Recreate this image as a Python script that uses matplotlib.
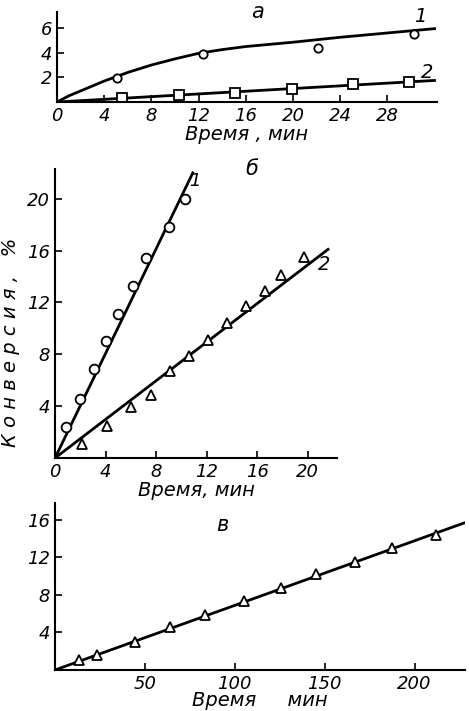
import matplotlib.pyplot as plt

plt.rcParams['font.family'] = 'DejaVu Sans'
plt.rcParams['font.style'] = 'italic'

# panel a
a_t1 = [5.1, 12.4, 22.1, 30.3]
a_y1 = [1.95, 3.9, 4.4, 5.55]
a_fit1_t = [0, 1, 2, 4, 6, 8, 10, 12, 14, 16, 20, 24, 28, 32]
a_fit1_y = [0, 0.5, 0.9, 1.7, 2.4, 3.0, 3.5, 3.95, 4.25, 4.5, 4.85, 5.25, 5.6, 5.95]
a_t2 = [5.5, 10.3, 15.1, 19.9, 25.1, 29.8]
a_y2 = [0.35, 0.57, 0.76, 1.03, 1.44, 1.66]
a_fit2_t = [0, 32]
a_fit2_y = [0, 1.75]

# panel b
b_t1 = [0.9, 2.0, 3.05, 4.0, 5.0, 6.2, 7.2, 9.0, 10.3]
b_y1 = [2.4, 4.55, 6.9, 9.0, 11.1, 13.3, 15.4, 17.8, 20.0]
b_fit1_t = [0, 10.9]
b_fit1_y = [0, 22.0]
b_t2 = [2.1, 4.1, 6.0, 7.6, 9.1, 10.6, 12.1, 13.6, 15.1, 16.6, 17.9, 19.7]
b_y2 = [1.1, 2.5, 3.9, 4.9, 6.7, 7.9, 9.1, 10.4, 11.7, 12.9, 14.1, 15.5]
b_fit2_t = [0, 21.6]
b_fit2_y = [0, 16.1]

# panel c
c_t = [13.5, 23.6, 44.6, 64, 83.6, 105, 125.6, 145, 166.7, 187.5, 212]
c_y = [1.1, 1.6, 3.0, 4.6, 5.9, 7.3, 8.7, 10.2, 11.5, 13.0, 14.4]
c_fit_t = [0, 228]
c_fit_y = [0, 15.7]

fig = plt.figure(figsize=(4.69, 7.11), dpi=100)

def style(ax):
    for s in ['top', 'right']:
        ax.spines[s].set_visible(False)
    for s in ['left', 'bottom']:
        ax.spines[s].set_linewidth(1.5)
    ax.tick_params(direction='in', length=5, width=1.2, labelsize=13)

# a
ax1 = fig.add_axes([0.1215, 0.8565, 0.810, 0.1266])
ax1.plot(a_fit1_t, a_fit1_y, color='black', lw=2)
ax1.plot(a_t1, a_y1, 'o', mfc='white', mec='black', ms=6, mew=1.3)
ax1.plot(a_fit2_t, a_fit2_y, color='black', lw=2)
ax1.plot(a_t2, a_y2, 's', mfc='white', mec='black', ms=7, mew=1.3)
ax1.set_xlim(0, 32.2)
ax1.set_ylim(0, 7.3)
ax1.set_xticks([0, 4, 8, 12, 16, 20, 24, 28])
ax1.set_yticks([2, 4, 6])
style(ax1)
ax1.set_xlabel('Время , мин', fontsize=14, labelpad=0)
ax1.text(17, 7.3, 'а', fontsize=15, ha='center', va='center')
ax1.text(30.8, 6.9, '1', fontsize=14, ha='center', va='center')
ax1.text(31.4, 2.4, '2', fontsize=14, ha='center', va='center')

# b
ax2 = fig.add_axes([0.1173, 0.3558, 0.601, 0.4065])
ax2.plot(b_fit1_t, b_fit1_y, color='black', lw=2)
ax2.plot(b_t1, b_y1, 'o', mfc='white', mec='black', ms=7, mew=1.3)
ax2.plot(b_fit2_t, b_fit2_y, color='black', lw=2)
ax2.plot(b_t2, b_y2, '^', mfc='white', mec='black', ms=7, mew=1.3)
ax2.set_xlim(0, 22.3)
ax2.set_ylim(0, 22.3)
ax2.set_xticks([0, 4, 8, 12, 16, 20])
ax2.set_yticks([4, 8, 12, 16, 20])
style(ax2)
ax2.set_xlabel('Время, мин', fontsize=14, labelpad=0)
ax2.set_ylabel('К о н в е р с и я ,   %', fontsize=14)
ax2.yaxis.set_label_coords(-0.125, 0.40)
ax2.text(15.6, 22.3, 'б', fontsize=15, ha='center', va='center')
ax2.text(11.1, 21.4, '1', fontsize=13, ha='center', va='center')
ax2.text(21.3, 14.9, '2', fontsize=14, ha='center', va='center')

# c
ax3 = fig.add_axes([0.1173, 0.0577, 0.874, 0.2349])
ax3.plot(c_fit_t, c_fit_y, color='black', lw=2)
ax3.plot(c_t, c_y, '^', mfc='white', mec='black', ms=7, mew=1.3)
ax3.set_xlim(0, 228)
ax3.set_ylim(0, 17.8)
ax3.set_xticks([50, 100, 150, 200])
ax3.set_yticks([4, 8, 12, 16])
style(ax3)
ax3.set_xlabel('Время     мин', fontsize=14, labelpad=-1)
ax3.text(93, 15.4, 'в', fontsize=15, ha='center', va='center')

fig.savefig('out.png', dpi=100)
